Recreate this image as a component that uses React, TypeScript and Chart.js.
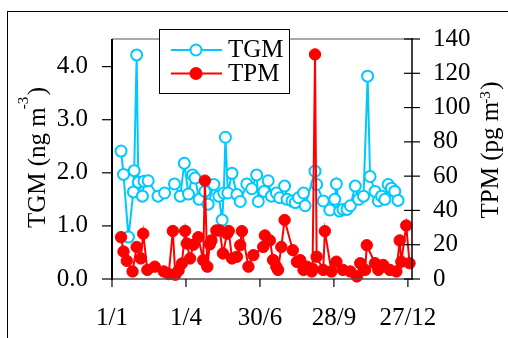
import React, { useEffect, useRef } from 'react';
import { Chart, registerables } from 'chart.js';

Chart.register(...registerables);

// ---- data (day of year, value) ----
const tgmDays = [11, 14, 20, 26, 27, 30, 32, 37, 39, 44, 56, 64, 76, 83, 88, 93, 98, 101, 106, 113, 117, 124, 130, 134, 136, 138, 141, 146, 152, 156, 164, 170, 176, 178, 185, 190, 194, 200, 204, 210, 213, 219, 223, 227, 233, 235, 247, 249, 257, 265, 271, 273, 277, 281, 286, 290, 296, 300, 306, 311, 314, 320, 324, 328, 332, 336, 340, 344, 348];
const tgmValues = [2.41, 1.97, 0.79, 1.64, 2.04, 4.22, 1.82, 1.56, 1.84, 1.85, 1.56, 1.62, 1.79, 1.56, 2.18, 1.60, 1.96, 1.90, 1.50, 1.65, 1.41, 1.78, 1.56, 1.11, 1.62, 2.67, 1.62, 1.99, 1.59, 1.46, 1.79, 1.70, 1.96, 1.46, 1.65, 1.85, 1.56, 1.62, 1.53, 1.75, 1.50, 1.47, 1.44, 1.53, 1.62, 1.38, 2.03, 1.78, 1.47, 1.30, 1.50, 1.79, 1.28, 1.31, 1.31, 1.38, 1.75, 1.50, 1.56, 3.82, 1.93, 1.65, 1.47, 1.56, 1.50, 1.78, 1.71, 1.65, 1.48];

const tpmDays = [11, 14, 18, 25, 30, 35, 38, 43, 52, 63, 69, 74, 77, 81, 85, 89, 91, 95, 99, 105, 111, 113, 116, 119, 121, 127, 131, 135, 140, 142, 146, 152, 156, 158, 166, 172, 184, 186, 192, 196, 200, 202, 206, 210, 220, 225, 229, 233, 237, 243, 244, 247, 249, 257, 259, 267, 273, 281, 290, 298, 302, 308, 310, 320, 324, 330, 338, 346, 350, 352, 358, 362];
const tpmValues = [24.4, 16, 10.6, 4.4, 18.7, 12, 26.4, 5.3, 7.2, 4.4, 2.9, 28, 2.5, 5, 9, 28, 20.7, 12, 20, 24.4, 11, 57.4, 7.2, 20.2, 22.5, 28.3, 28.3, 14.9, 26.4, 28, 12, 13, 19.7, 27.9, 7.2, 13.9, 18.7, 25.4, 22.5, 11.1, 7.2, 5.3, 18.7, 34.4, 16.8, 10, 11, 5.3, 7.2, 4.4, 6, 131, 13, 5.3, 27.9, 4.4, 10.1, 5.3, 4.4, 1.5, 9.2, 5.3, 19.7, 9.2, 5.3, 8.2, 5.3, 4.4, 22.5, 10.1, 31.2, 9.2];

const xTickDays = [0, 90, 180, 270, 360];
const xTickLabels = ['1/1', '1/4', '30/6', '28/9', '27/12'];
const leftTicks = [0, 1, 2, 3, 4];
const rightTicks = [0, 20, 40, 60, 80, 100, 120, 140];

const seriesNames = ['TGM', 'TPM'];
const CYAN = 'rgb(0,200,255)';
const RED = 'rgb(255,0,0)';
const SERIF = '"Liberation Serif", "Times New Roman", serif';

function line(ctx: CanvasRenderingContext2D, x1: number, y1: number, x2: number, y2: number, color: string, w: number) {
  ctx.beginPath();
  ctx.strokeStyle = color;
  ctx.lineWidth = w;
  ctx.moveTo(x1, y1);
  ctx.lineTo(x2, y2);
  ctx.stroke();
}

function rotTitle(ctx: CanvasRenderingContext2D, main: string, sup: string, close: string, baseX: number, centerY: number, size: number, supRaise: number) {
  ctx.save();
  ctx.fillStyle = '#000';
  ctx.font = `${size}px ${SERIF}`;
  const wMain = ctx.measureText(main).width;
  const wClose = ctx.measureText(close).width;
  const closeStart = wMain + 12;
  const total = closeStart + wClose;
  ctx.translate(baseX, centerY + total / 2);
  ctx.rotate(-Math.PI / 2);
  ctx.textAlign = 'left';
  ctx.textBaseline = 'alphabetic';
  ctx.fillText(main, 0, 0);
  ctx.fillText(close, closeStart, 0);
  ctx.font = `${Math.round(size * 0.6)}px ${SERIF}`;
  ctx.fillText(sup, wMain - 2, -supRaise);
  ctx.restore();
}

const decor = {
  id: 'decor',
  beforeDraw(chart: any) {
    const ctx = chart.ctx as CanvasRenderingContext2D;
    ctx.save();
    ctx.fillStyle = '#fff';
    ctx.fillRect(0, 0, chart.width, chart.height);
    ctx.strokeStyle = '#000';
    ctx.lineWidth = 1;
    ctx.strokeRect(7.5, 11.5, 1000, 1000);
    ctx.restore();
  },
  afterDraw(chart: any) {
    const ctx = chart.ctx as CanvasRenderingContext2D;
    const a = chart.chartArea;
    const sx = chart.scales.x;
    const sy = chart.scales.y;
    const sy1 = chart.scales.y1;
    ctx.save();
    line(ctx, a.left, a.top, a.right, a.top, '#8c8c8c', 1.5);
    line(ctx, a.left, a.bottom, a.right, a.bottom, '#555', 1.5);
    line(ctx, a.left, a.top, a.left, a.bottom + 1, '#000', 2);
    line(ctx, a.right, a.top - 1, a.right, a.bottom + 1, '#000', 1.5);
    leftTicks.forEach(v => {
      const y = sy.getPixelForValue(v);
      line(ctx, a.left - 10, y, a.left, y, '#000', 1.2);
    });
    rightTicks.forEach(v => {
      const y = sy1.getPixelForValue(v);
      line(ctx, a.right - 8, y, a.right + 8, y, '#000', 1.2);
    });
    xTickDays.forEach(v => {
      const x = sx.getPixelForValue(v);
      line(ctx, x, a.bottom, x, a.bottom + 8, '#000', 1.2);
    });

    // legend
    const lx = 159, ly = 29, lw = 130, lh = 64;
    ctx.fillStyle = '#fff';
    ctx.fillRect(lx, ly, lw, lh);
    ctx.strokeStyle = '#000';
    ctx.lineWidth = 1;
    ctx.strokeRect(lx + 0.5, ly + 0.5, lw, lh);
    const rows = [
      { name: seriesNames[0], color: CYAN, fill: '#fff', y: 50, base: 57 },
      { name: seriesNames[1], color: RED, fill: RED, y: 73.5, base: 81 },
    ];
    rows.forEach(r => {
      line(ctx, 171, r.y, 222, r.y, r.color, 2);
      ctx.beginPath();
      ctx.arc(196, r.y, 5.5, 0, Math.PI * 2);
      ctx.fillStyle = r.fill;
      ctx.fill();
      ctx.strokeStyle = r.color;
      ctx.lineWidth = 2;
      ctx.stroke();
      ctx.fillStyle = '#000';
      ctx.font = `25px ${SERIF}`;
      ctx.textAlign = 'left';
      ctx.textBaseline = 'alphabetic';
      ctx.fillText(r.name, 228, r.base);
    });

    rotTitle(ctx, 'TGM (ng m', '-3', ')', 45, 157.5, 25, 17);
    rotTitle(ctx, 'TPM (pg m', '-3', ')', 498, 150, 25, 8);
    ctx.restore();
  },
};

export default function App() {
  const ref = useRef<HTMLCanvasElement | null>(null);
  useEffect(() => {
    if (!ref.current) return;
    const tickFont = { family: SERIF, size: 25 };
    const chart = new Chart(ref.current, {
      type: 'line',
      data: {
        datasets: [
          {
            label: seriesNames[0],
            data: tgmDays.map((d, i) => ({ x: d, y: tgmValues[i] })),
            yAxisID: 'y',
            borderColor: CYAN,
            borderWidth: 2,
            pointRadius: 5.5,
            pointBorderWidth: 2,
            pointBackgroundColor: '#fff',
            pointBorderColor: CYAN,
            tension: 0,
            order: 2,
            clip: false as any,
          },
          {
            label: seriesNames[1],
            data: tpmDays.map((d, i) => ({ x: d, y: tpmValues[i] })),
            yAxisID: 'y1',
            borderColor: RED,
            borderWidth: 2,
            pointRadius: 5.7,
            pointBorderWidth: 1,
            pointBackgroundColor: RED,
            pointBorderColor: RED,
            tension: 0,
            order: 1,
            clip: false as any,
          },
        ],
      },
      options: {
        responsive: false,
        animation: false,
        devicePixelRatio: 1,
        layout: { padding: { top: 35, left: 0, right: 0, bottom: 0 } },
        plugins: { legend: { display: false }, tooltip: { enabled: false }, title: { display: false } },
        scales: {
          x: {
            type: 'linear',
            min: 0,
            max: 365,
            afterBuildTicks: (s: any) => { s.ticks = xTickDays.map(v => ({ value: v })); },
            afterFit: (s: any) => { s.height = 59; },
            ticks: {
              font: tickFont,
              color: '#000',
              padding: 24,
              maxRotation: 0,
              autoSkip: false,
              callback: (v: any) => { const i = xTickDays.indexOf(Number(v)); return i >= 0 ? xTickLabels[i] : ''; },
            },
            grid: { display: false, drawTicks: false },
            border: { display: false },
          },
          y: {
            type: 'linear',
            position: 'left',
            min: 0,
            max: 4.52,
            afterBuildTicks: (s: any) => { s.ticks = leftTicks.map(v => ({ value: v })); },
            afterFit: (s: any) => { s.width = 112; },
            ticks: { font: tickFont, color: '#000', padding: 24, callback: (v: any) => Number(v).toFixed(1) },
            grid: { display: false, drawTicks: false },
            border: { display: false },
          },
          y1: {
            type: 'linear',
            position: 'right',
            min: 0,
            max: 140,
            afterBuildTicks: (s: any) => { s.ticks = rightTicks.map(v => ({ value: v })); },
            afterFit: (s: any) => { s.width = 96; },
            ticks: { font: tickFont, color: '#000', padding: 21, callback: (v: any) => String(v) },
            grid: { display: false, drawTicks: false },
            border: { display: false },
          },
        },
      } as any,
      plugins: [decor],
    });
    return () => chart.destroy();
  }, []);
  return (
    <div style={{ position: 'fixed', left: 0, top: 0, width: 508, height: 338, background: '#fff' }}>
      <canvas ref={ref} width={508} height={338} style={{ display: 'block', width: 508, height: 338 }} />
    </div>
  );
}
